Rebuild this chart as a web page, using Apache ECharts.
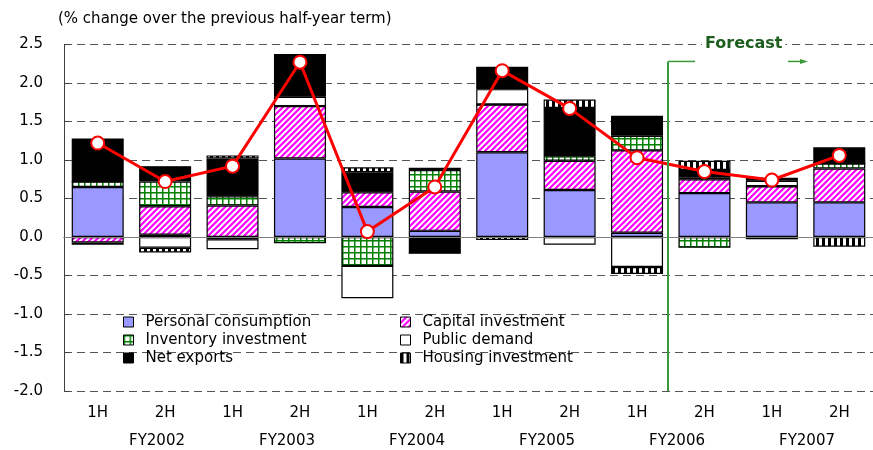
<!DOCTYPE html>
<html>
<head>
<meta charset="utf-8">
<script src="https://cdn.jsdelivr.net/npm/echarts@6/dist/echarts.min.js"></script>
<style>
    html,body{margin:0;padding:0;background:#fff;}
    #main{width:873px;height:450px;}
</style>
</head>
<body>
<div id="main"></div>
<script>
//categories
var halves=["1H","2H","1H","2H","1H","2H","1H","2H","1H","2H","1H","2H"];
var years=["FY2002","FY2003","FY2004","FY2005","FY2006","FY2007"];

//contributions (% points)
var personal=[0.65,0.03,-0.03,1.02,0.39,0.08,1.10,0.61,0.055,0.57,0.45,0.45];
var capital=[-0.07,0.37,0.41,0.68,0.19,0.51,0.62,0.38,1.07,0.18,0.21,0.44];
var inventory=[0.07,0.32,0.12,-0.08,-0.375,0.28,0,0.06,0.19,-0.14,0,0.065];
var publicDemand=[0,-0.14,-0.13,0.12,-0.42,0.03,0.2,-0.1,-0.39,0.02,0.07,0];
var netExports=[0.56,0.2,0.49,0.55,0.26,-0.21,0.29,0.625,0.26,0.1,0.04,0.21];
var housing=[-0.03,-0.06,0.04,0,0.065,0,-0.04,0.11,-0.09,0.12,-0.03,-0.125];

//real GDP growth
var gdp=[1.22,0.72,0.92,2.27,0.07,0.65,2.16,1.67,1.03,0.85,0.74,1.06];

var FONT="DejaVu Sans";

//fill patterns
function makePattern(kind)
{
    var c=document.createElement("canvas");
    c.width=6;c.height=6;
    var g=c.getContext("2d");
    g.fillStyle="#fff";
    g.fillRect(0,0,6,6);
    if(kind=="diag")
    {
        g.strokeStyle="#FF00FF";
        g.lineWidth=2.2;
        g.beginPath();
        g.moveTo(-1,7);g.lineTo(7,-1);
        g.moveTo(-4,4);g.lineTo(4,-4);
        g.moveTo(2,10);g.lineTo(10,2);
        g.stroke();
    }
    else if(kind=="grid")
    {
        g.fillStyle="#008000";
        g.fillRect(0,0,6,1.5);
        g.fillRect(0,0,1.5,6);
    }
    else if(kind=="vstripe")
    {
        g.fillStyle="#000";
        g.fillRect(0,0,3,6);
    }
    return {image:c,repeat:"repeat"};
}

function barSeries(name,data,color)
{
    return {
        name:name,
        type:"bar",
        stack:"gdp",
        data:data,
        barWidth:52,
        itemStyle:{color:color,borderColor:"#000",borderWidth:1.2},
        emphasis:{disabled:true}
    };
}

var series=[
    barSeries("Personal consumption",personal,"#9999FF"),
    barSeries("Capital investment",capital,makePattern("diag")),
    barSeries("Inventory investment",inventory,makePattern("grid")),
    barSeries("Public demand",publicDemand,"#FFFFFF"),
    barSeries("Net exports",netExports,"#000000"),
    barSeries("Housing investment",housing,makePattern("vstripe"))
];
series[0].markLine={
    silent:true,
    symbol:"none",
    label:{show:false},
    lineStyle:{color:"#808080",type:"solid",width:1},
    data:[{yAxis:0}]
};
series.push({
    name:"Real GDP",
    type:"line",
    data:gdp,
    z:5,
    symbol:"circle",
    symbolSize:13,
    lineStyle:{color:"#FF0000",width:3},
    itemStyle:{color:"#FFFFFF",borderColor:"#FF0000",borderWidth:2},
    emphasis:{disabled:true}
});

var legendBase={
    orient:"vertical",
    top:313,
    padding:0,
    itemWidth:10,
    itemHeight:10,
    itemGap:0,
    icon:"rect",
    selectedMode:false,
    itemStyle:{borderColor:"#000",borderWidth:1},
    textStyle:{fontFamily:FONT,fontSize:15,color:"#000",lineHeight:18,padding:[0,0,0,7]}
};

var option={
    animation:false,
    backgroundColor:"#fff",
    title:{
        text:"(% change over the previous half-year term)",
        left:58,
        top:12,
        padding:0,
        textStyle:{fontFamily:FONT,fontSize:15,fontWeight:"normal",color:"#000"}
    },
    legend:[
        Object.assign({},legendBase,{left:123,data:["Personal consumption","Inventory investment","Net exports"]}),
        Object.assign({},legendBase,{left:400,data:["Capital investment","Public demand","Housing investment"]})
    ],
    grid:[
        {left:64,top:44.5,width:816,height:346.5},
        {left:92,top:44.5,width:780,height:346.5}
    ],
    xAxis:[
        {
            type:"category",
            gridIndex:0,
            data:halves,
            axisLine:{lineStyle:{color:"#000",width:1}},
            axisTick:{inside:true,length:5,lineStyle:{color:"#808080"}},
            axisLabel:{fontFamily:FONT,fontSize:15,color:"#000",margin:15},
            splitLine:{show:false}
        },
        {
            type:"category",
            gridIndex:1,
            data:years,
            axisLine:{show:false},
            axisTick:{show:false},
            axisLabel:{fontFamily:FONT,fontSize:15,color:"#000",margin:43},
            splitLine:{show:false}
        }
    ],
    yAxis:[
        {
            type:"value",
            gridIndex:0,
            min:-2,
            max:2.5,
            interval:0.5,
            axisLine:{show:true,lineStyle:{color:"#404040",width:1}},
            axisTick:{show:true,inside:true,length:5,lineStyle:{color:"#404040"}},
            axisLabel:{fontFamily:FONT,fontSize:15,color:"#000",margin:21,
                formatter:function(v){return v.toFixed(1);}},
            splitLine:{show:true,lineStyle:{color:"#555",type:[8,5],width:1}}
        },
        {
            type:"value",
            gridIndex:1,
            min:-2,
            max:2.5,
            show:false
        }
    ],
    series:series
};

var myChart=echarts.init(document.getElementById("main"));
myChart.setOption(option);

//forecast marker between 1H and 2H of FY2006
var c8=myChart.convertToPixel({xAxisIndex:0},8);
var c9=myChart.convertToPixel({xAxisIndex:0},9);
var fx=Math.round((c8+c9)/2)-3;
var fyTop=myChart.convertToPixel({yAxisIndex:0},2.28);
var fyBot=myChart.convertToPixel({yAxisIndex:0},-2);
var green="#3A9A3A";
myChart.setOption({
    graphic:[
        {type:"line",shape:{x1:fx,y1:fyTop,x2:fx,y2:fyBot},style:{stroke:green,lineWidth:2},z:10},
        {type:"line",shape:{x1:fx,y1:fyTop,x2:fx+27,y2:fyTop},style:{stroke:green,lineWidth:1.5},z:10},
        {type:"line",shape:{x1:fx+120,y1:fyTop,x2:fx+133,y2:fyTop},style:{stroke:green,lineWidth:1.5},z:10},
        {type:"polygon",shape:{points:[[fx+140,fyTop],[fx+132,fyTop-2.5],[fx+132,fyTop+2.5]]},style:{fill:green},z:10},
        {type:"text",x:fx+34,y:44,z:10,
            style:{text:"Forecast",fill:"#1E5E1E",font:"bold 16px 'DejaVu Sans'",
                textVerticalAlign:"middle",backgroundColor:"#fff",padding:[2,3]}}
    ]
});
</script>
</body>
</html>
